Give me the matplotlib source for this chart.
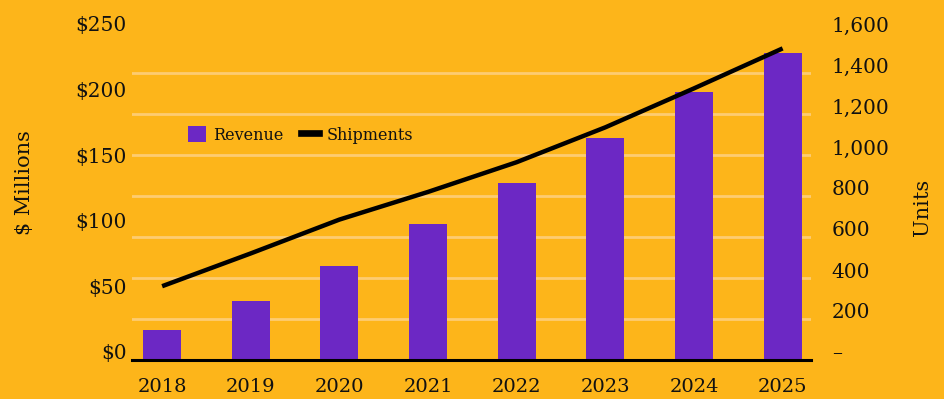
import matplotlib
matplotlib.use("Agg")
import matplotlib.pyplot as plt
import matplotlib.transforms as mtransforms
from matplotlib.patches import Patch
from matplotlib.lines import Line2D
from matplotlib.ticker import FuncFormatter
import numpy as np

years = ["2018", "2019", "2020", "2021", "2022", "2023", "2024", "2025"]
revenue = [23, 45, 72, 104, 135, 169, 204, 234]          # $ Millions
shipments = [360, 520, 685, 820, 965, 1135, 1325, 1520]  # Units

BG = "#FDB51A"
PURPLE = "#6C28C4"
GRID = "#FDCC72"
INK = "#111111"
FONT = "DejaVu Serif"

plt.rcParams["font.family"] = FONT
fig = plt.figure(figsize=(9.45, 3.99), dpi=100, facecolor=BG)
ax = fig.add_axes([132/945, 1-360/399, (811-132)/945, (360-32)/399])
ax.set_facecolor(BG)
x = np.arange(len(years))
ax.bar(x, revenue, width=0.43, color=PURPLE, zorder=2)
ax.set_xlim(-0.34, 7.32)
ax.set_ylim(0, 250)
ax.set_yticks(np.arange(0, 251, 50))
ax.yaxis.set_major_formatter(FuncFormatter(lambda v, p: f"${int(v)}"))
ax.set_yticks(np.linspace(0, 250, 9), minor=True)
ax.grid(axis="y", which="minor", color=GRID, linewidth=2)
ax.grid(axis="y", which="major", visible=False)
ax.set_axisbelow(True)
ax.set_xticks(x)
ax.set_xticklabels(years)
for s in ["top", "left", "right"]:
    ax.spines[s].set_visible(False)
ax.spines["bottom"].set_linewidth(2.2)
ax.spines["bottom"].set_color("black")
ax.tick_params(axis="both", which="both", length=0, colors=INK)
ax.tick_params(axis="x", pad=13, labelsize=14)
ax.tick_params(axis="y", pad=4, labelsize=14.5)

ax2 = ax.twinx()
ax2.patch.set_visible(False)
ax2.plot(x, shipments, color="black", linewidth=3.2, solid_capstyle="butt", zorder=3)
ax2.set_ylim(0, 1600)
ax2.set_yticks(np.arange(0, 1601, 200))
ax2.yaxis.set_major_formatter(FuncFormatter(lambda v, p: "\u2013" if v == 0 else f"{int(v):,}"))
for s in ["top", "left", "right", "bottom"]:
    ax2.spines[s].set_visible(False)
ax2.tick_params(axis="y", length=0, labelsize=14.5, pad=15, colors=INK)

off = mtransforms.ScaledTranslation(0, 8/100, fig.dpi_scale_trans)
for lab in ax.get_yticklabels() + ax2.get_yticklabels():
    lab.set_transform(lab.get_transform() + off)

fig.text(25/945, 1-183/399, "$ Millions", rotation=90, ha="center", va="center",
         fontsize=15, color=INK)
fig.text(923/945, 1-207/399, "Units", rotation=90, ha="center", va="center",
         fontsize=15, color=INK)

handles = [Patch(facecolor=PURPLE, edgecolor="none"),
           Line2D([0], [0], color="black", linewidth=4.8)]
leg = fig.legend(handles, ["Revenue", "Shipments"], loc="center left",
                 bbox_to_anchor=(188/945, 1-135/399), ncol=2, frameon=False,
                 fontsize=11.5, handlelength=1.15, handleheight=1.15,
                 handletextpad=0.45, columnspacing=1.05, borderpad=0, borderaxespad=0)
for t in leg.get_texts():
    t.set_color(INK)

fig.savefig("out.png", dpi=100, facecolor=BG)
